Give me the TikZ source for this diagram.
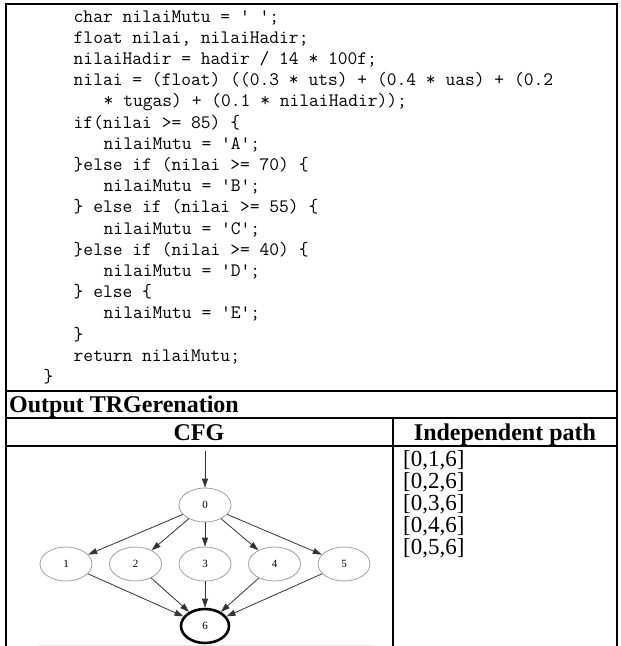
\documentclass[tikz,border=0pt]{standalone}
\usepackage{fontspec}
\setmainfont{Liberation Serif}
\usetikzlibrary{arrows.meta,shapes.geometric}
\newcommand\cdfont{\ttfamily\fontsize{19}{21}\selectfont}
\newcommand\hdfont{\bfseries\fontsize{24}{26}\selectfont}
\newcommand\pathfont{\fontsize{23}{22}\selectfont}
\tikzset{
  codeline/.style={anchor=base west, inner sep=0pt, font=\cdfont},
  rule/.style={line width=1.8pt, black},
  cfgnode/.style={ellipse, draw=gray!75, line width=0.8pt, minimum width=52pt, minimum height=34pt, inner sep=0pt, font=\fontsize{11}{12}\selectfont},
  exitnode/.style={cfgnode, draw=black, line width=2.6pt, minimum width=48pt, minimum height=34pt},
  cfgedge/.style={draw=black!80, line width=0.8pt, -{Triangle[length=9pt,width=6pt]}},
  pathline/.style={anchor=base west, inner sep=0pt, font=\pathfont}
}
\begin{document}
\begin{tikzpicture}[x=1pt,y=-1pt]
\useasboundingbox (0,0) rectangle (621,646);
% frame
\draw[rule] (6,646) -- (6,4) -- (617,4) -- (617,646);
\draw[rule] (6,391) -- (617,391);
\draw[rule] (6,418) -- (617,418);
\draw[rule] (6,446) -- (617,446);
\draw[rule] (393,418) -- (393,646);
% code
\node[codeline] (c0)  at (73.5,22)    {char nilaiMutu = ' ';};
\node[codeline] (c1)  at (73.5,43.2)  {float nilai, nilaiHadir;};
\node[codeline] (c2)  at (73.5,64.4)  {nilaiHadir = hadir / 14 * 100f;};
\node[codeline] (c3)  at (73.5,85.6)  {nilai = (float) ((0.3 * uts) + (0.4 * uas) + (0.2};
\node[codeline] (c4)  at (103.5,106.8)  {* tugas) + (0.1 * nilaiHadir));};
\node[codeline] (c5)  at (73.5,128)   {if(nilai >= 85) \{};
\node[codeline] (c6)  at (103.5,149.2)  {nilaiMutu = 'A';};
\node[codeline] (c7)  at (73.5,170.4) {\}else if (nilai >= 70) \{};
\node[codeline] (c8)  at (103.5,191.6)  {nilaiMutu = 'B';};
\node[codeline] (c9)  at (73.5,212.8) {\} else if (nilai >= 55) \{};
\node[codeline] (c10) at (103.5,234)    {nilaiMutu = 'C';};
\node[codeline] (c11) at (73.5,255.2) {\}else if (nilai >= 40) \{};
\node[codeline] (c12) at (103.5,276.4)  {nilaiMutu = 'D';};
\node[codeline] (c13) at (73.5,297.6) {\} else \{};
\node[codeline] (c14) at (103.5,318.8)  {nilaiMutu = 'E';};
\node[codeline] (c15) at (73.5,340)   {\}};
\node[codeline] (c16) at (73.5,361.2) {return nilaiMutu;};
\node[codeline] (c17) at (43.5,382.4)   {\}};
% headers
\node[anchor=base west, inner sep=0pt, font=\hdfont] (out) at (9,412) {Output TRGerenation};
\node[anchor=base, inner sep=0pt, font=\hdfont] (cfg) at (199,440) {CFG};
\node[anchor=base, inner sep=0pt, font=\hdfont] (ip) at (505,440) {Independent path};
% paths
\node[pathline] (p1) at (403,466) {[0,1,6]};
\node[pathline] (p2) at (403,488) {[0,2,6]};
\node[pathline] (p3) at (403,510) {[0,3,6]};
\node[pathline] (p4) at (403,532) {[0,4,6]};
\node[pathline] (p5) at (403,554) {[0,5,6]};
% CFG graph
\coordinate (entry) at (205,451);
\node[cfgnode] (n0) at (205,505) {0};
\node[cfgnode] (n1) at (66,564) {1};
\node[cfgnode] (n2) at (135.5,564) {2};
\node[cfgnode] (n3) at (205,564) {3};
\node[cfgnode] (n4) at (274.5,564) {4};
\node[cfgnode] (n5) at (344,564) {5};
\node[exitnode] (n6) at (205,626) {6};
\draw[cfgedge] (entry) -- (n0);
\foreach \k in {1,...,5}{
  \draw[cfgedge] (n0) -- (n\k);
  \draw[cfgedge] (n\k) -- (n6);
}
\draw[gray!15, line width=1pt] (37,645.5) -- (373,645.5);
\end{tikzpicture}
\end{document}
